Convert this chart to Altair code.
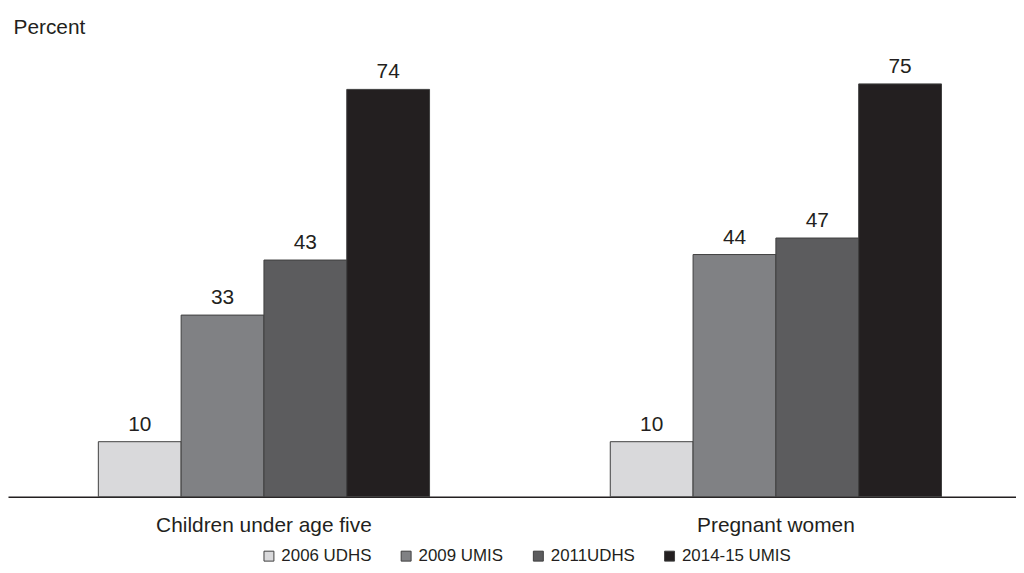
import altair as alt
import pandas as pd

groups = ["Children under age five", "Pregnant women"]
series = ["2006 UDHS", "2009 UMIS", "2011UDHS", "2014-15 UMIS"]
children = [10, 33, 43, 74]
pregnant = [10, 44, 47, 75]
colors = ["#d9d9db", "#808184", "#5c5c5e", "#231f20"]

rows = []
for g, vals in zip(groups, [children, pregnant]):
    for s, v in zip(series, vals):
        rows.append({"group": g, "series": s, "value": v})
df = pd.DataFrame(rows)

FONT = "Liberation Sans"

x = alt.X(
    "group:N",
    sort=groups,
    scale=alt.Scale(paddingInner=0.353, paddingOuter=0.161, align=0.548),
    axis=alt.Axis(
        title=None, labelAngle=0, ticks=False, domainColor="#231f20", domainWidth=1.5,
        labelFontSize=21, labelFont=FONT, labelColor="#231f20", labelPadding=18,
        labelLimit=500,
    ),
)
xoff = alt.XOffset("series:N", sort=series, scale=alt.Scale(paddingInner=0, paddingOuter=0))
y = alt.Y(
    "value:Q",
    scale=alt.Scale(domain=[0, 80], nice=False),
    axis=alt.Axis(
        title="Percent", grid=False, domain=False, ticks=False, labels=False,
        titleAngle=0, titleAlign="left", titleBaseline="alphabetic", titleX=5, titleY=-23,
        titleFont=FONT, titleFontSize=21, titleFontWeight="normal", titleColor="#231f20",
    ),
)

bars = alt.Chart(df).mark_bar(stroke="#404040", strokeWidth=1).encode(
    x=x, xOffset=xoff, y=y,
    color=alt.Color(
        "series:N", sort=series,
        scale=alt.Scale(domain=series, range=colors),
        legend=alt.Legend(
            title=None, orient="none", direction="horizontal", legendX=254, legendY=494,
            symbolType="square", symbolSize=100, symbolStrokeColor="#404040", symbolStrokeWidth=1,
            labelFont=FONT, labelFontSize=17, labelColor="#231f20", labelOffset=4,
            columnPadding=26,
        ),
    ),
)

labels = alt.Chart(df).mark_text(
    baseline="alphabetic", dy=-11, font=FONT, fontSize=21, color="#231f20"
).encode(x=x, xOffset=xoff, y=y, text=alt.Text("value:Q"))

chart = (bars + labels).properties(
    width=1014, height=443,
    autosize=alt.AutoSizeParams(type="none"),
    padding={"left": 0, "top": 47, "right": 0, "bottom": 67},
).configure_view(stroke=None)

chart.save("out.html", embed_options={"renderer": "svg", "actions": False})
